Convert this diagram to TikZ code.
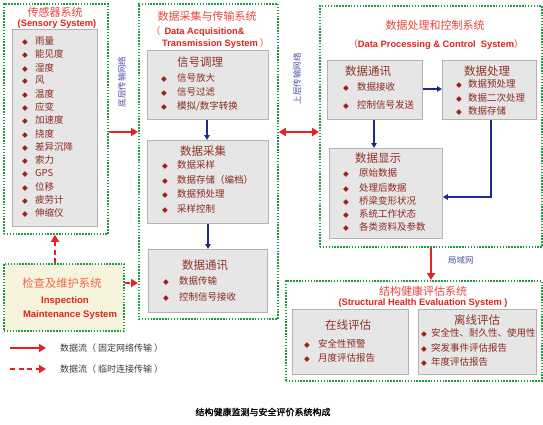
\documentclass[tikz,border=0pt]{standalone}
\usepackage{fontspec}
\setmainfont{Noto Sans CJK SC}
\newfontfamily\en{Liberation Sans}
\newfontfamily\sym{DejaVu Sans}
\newfontfamily\cjkb[FakeBold=1.2]{Noto Sans CJK SC}
\usetikzlibrary{arrows.meta}
\definecolor{dotgreen}{HTML}{1C9A44}
\definecolor{titlered}{HTML}{E8453C}
\definecolor{enred}{HTML}{E0231B}
\definecolor{itemred}{HTML}{8C2A1E}
\definecolor{subtitlec}{HTML}{8E3526}
\definecolor{dia}{HTML}{9A2418}
\definecolor{grayfill}{HTML}{E6E6E6}
\definecolor{grayline}{HTML}{B3B3B3}
\definecolor{navy}{HTML}{1E2A8A}
\definecolor{arrred}{HTML}{E32227}
\definecolor{lblue}{HTML}{4F4FA6}
\definecolor{cream}{HTML}{F6F4DC}
\definecolor{maintred}{HTML}{EC6A4E}
\definecolor{legtext}{HTML}{3A3A3A}
\newcommand\dm[2]{\makebox[#1pt][l]{{\sym\fontsize{7.5}{7.5}\selectfont\color{dia}◆}}#2}
\tikzset{
 sysbox/.style={draw=dotgreen, line width=1.8pt, dash pattern=on 1.5pt off 1.4pt, anchor=north west, inner sep=0pt},
 graybox/.style={draw=grayline, fill=grayfill, line width=0.9pt, anchor=north west, inner sep=0pt},
 systitle/.style={text=titlered, font=\fontsize{11}{11}\selectfont, inner sep=0pt},
 entitle/.style={text=enred, font=\en\bfseries\fontsize{9.3}{9.3}\selectfont, inner sep=0pt},
 subttl/.style={text=subtitlec, font=\fontsize{11.5}{11.5}\selectfont, inner sep=0pt},
 item/.style={text=itemred, font=\fontsize{9.5}{9.5}\selectfont, anchor=west, inner sep=0pt},
 redarr/.style={draw=arrred, line width=2.4pt, -{Triangle[length=7pt,width=8pt]}},
 bluearr/.style={draw=navy, line width=1.4pt, -{Triangle[length=5pt,width=5.5pt]}},
 netlbl/.style={text=lblue, font=\fontsize{8.5}{8.5}\selectfont, inner sep=0pt},
 legtxt/.style={text=legtext, font=\fontsize{9}{9}\selectfont, anchor=west, inner sep=0pt},
}
\begin{document}
\begin{tikzpicture}[x=1pt,y=-1pt]
\useasboundingbox (0,0) rectangle (543,425);
% ---------- boxes ----------
\node[sysbox, minimum width=104pt, minimum height=230pt] (sens) at (3,3) {};
\node[graybox, minimum width=85pt, minimum height=197pt] (sensg) at (12,29) {};
\node[sysbox, minimum width=139pt, minimum height=315pt] (acq) at (138,3) {};
\node[graybox, minimum width=121pt, minimum height=69pt] (sc) at (147,50) {};
\node[graybox, minimum width=121pt, minimum height=83pt] (da) at (147,140) {};
\node[graybox, minimum width=119pt, minimum height=63pt] (dc) at (148,249) {};
\node[sysbox, minimum width=222pt, minimum height=241pt] (proc) at (319,5) {};
\node[graybox, minimum width=95pt, minimum height=59pt] (pc) at (327,60) {};
\node[graybox, minimum width=94pt, minimum height=59pt] (pp) at (442,60) {};
\node[graybox, minimum width=113pt, minimum height=90pt] (pd) at (329,148) {};
\node[sysbox, minimum width=256pt, minimum height=100pt] (health) at (285,280) {};
\node[graybox, minimum width=116pt, minimum height=65pt] (on) at (292,309) {};
\node[graybox, minimum width=118pt, minimum height=65pt] (off) at (418,309) {};
\node[sysbox, fill=cream, minimum width=120pt, minimum height=67pt] (maint) at (3,263) {};
% ---------- titles ----------
\node[systitle] (t1) at (55,12) {传感器系统};
\node[entitle] (t1e) at (57,24) {(Sensory System)};
\node[systitle] (t2) at (207,16) {数据采集与传输系统};
\node[entitle, anchor=west] (t2e) at (151,31) {{\rm\color{titlered}（}\hspace{4pt}Data Acquisition\&};
\node[entitle, anchor=west] (t2f) at (162,43) {Transmission System\hspace{2pt}{\rm\color{titlered}）}};
\node[systitle] (t3) at (435,25) {数据处理和控制系统};
\node[entitle] (t3e) at (436,45) {{\rm\color{titlered}（}Data Processing \& Control\ \ System{\rm\color{titlered}）}};
\node[systitle] (t4) at (423,291) {结构健康评估系统};
\node[entitle] (t4e) at (423,303) {(Structural Health Evaluation System )};
\node[systitle, text=maintred, font=\fontsize{11.3}{11.3}\selectfont] (t5) at (62,283) {检查及维护系统};
\node[entitle, font=\en\bfseries\fontsize{9.5}{9.5}\selectfont] (t5e) at (65,301) {Inspection};
\node[entitle, font=\en\bfseries\fontsize{9.5}{9.5}\selectfont] (t5f) at (70,315) {Maintenance System};
% sub titles
\node[subttl] (st1) at (200,62) {信号调理};
\node[subttl] (st2) at (203,151) {数据采集};
\node[subttl] (st3) at (205,265) {数据通讯};
\node[subttl] (st4) at (368,71) {数据通讯};
\node[subttl] (st5) at (487,71) {数据处理};
\node[subttl] (st6) at (378,158) {数据显示};
\node[subttl] (st7) at (348,325) {在线评估};
\node[subttl] (st8) at (477,320) {离线评估};
% ---------- items ----------
\foreach \t [count=\i] in {雨量,能见度,湿度,风,温度,应变,加速度,挠度,差异沉降,索力,GPS,位移,疲劳计,伸缩仪}
  \node[item] (s\i) at (22,{41+13.23*(\i-1)}) {\dm{13}{\t}};
\foreach \t [count=\i] in {信号放大,信号过滤,模拟/数字转换}
  \node[item] (a\i) at (161,{78+14*(\i-1)}) {\dm{16}{\t}};
\foreach \t/\y [count=\i] in {数据采样/165,数据存储（编档）/180,数据预处理/194,采样控制/209}
  \node[item] (b\i) at (162,\y) {\dm{15}{\t}};
\foreach \t/\y [count=\i] in {数据传输/281,控制信号接收/297}
  \node[item] (c\i) at (163,\y) {\dm{16}{\t}};
\foreach \t/\y [count=\i] in {数据接收/87,控制信号发送/105}
  \node[item] (d\i) at (343,\y) {\dm{14}{\t}};
\foreach \t/\y [count=\i] in {数据预处理/84,数据二次处理/98,数据存储/111}
  \node[item] (e\i) at (456,\y) {\dm{12}{\t}};
\foreach \t/\y [count=\i] in {原始数据/173,处理后数据/188,桥梁变形状况/201,系统工作状态/214,各类资料及参数/227}
  \node[item] (f\i) at (343,\y) {\dm{16}{\t}};
\foreach \t/\y [count=\i] in {安全性预警/344,月度评估报告/358}
  \node[item] (g\i) at (304,\y) {\dm{14}{\t}};
\foreach \t/\y [count=\i] in {安全性、耐久性、使用性/333,突发事件评估报告/348,年度评估报告/362}
  \node[item] (h\i) at (421,\y) {\dm{10}{\t}};
% ---------- network labels ----------
\node[netlbl, rotate=90] (n1) at (122,82) {底层传输网络};
\node[netlbl, rotate=90] (n2) at (297,79) {上层传输网络};
\node[netlbl, anchor=west] (n3) at (448,260) {局域网};
% ---------- connectors ----------
\draw[redarr] (sens.east |- 0,132) -- (acq.west |- 0,132);
\draw[redarr, {Triangle[length=7pt,width=8pt]}-{Triangle[length=7pt,width=8pt]}] (acq.east |- 0,132) -- (proc.west |- 0,132);
\draw[redarr, dash pattern=on 5pt off 3.5pt] (maint.east |- 0,283) -- (acq.west |- 0,283);
\draw[redarr, dash pattern=on 5pt off 3.5pt] (maint.north -| 55,0) -- (sens.south -| 55,0);
\draw[redarr] (proc.south -| 431,0) -- (health.north -| 431,0);
\draw[bluearr] (sc.south -| 207,0) -- (da.north -| 207,0);
\draw[bluearr] (da.south -| 208,0) -- (dc.north -| 208,0);
\draw[bluearr] (pc.east |- 0,89) -- (pp.west |- 0,89);
\draw[bluearr] (pc.south -| 374,0) -- (pd.north -| 374,0);
\draw[bluearr] (pp.south -| 491,0) |- (pd.east |- 0,197);
% ---------- legend ----------
\coordinate (l1a) at (10,348);
\coordinate (l1b) at (46,348);
\coordinate (l2a) at (10,369);
\coordinate (l2b) at (46,369);
\draw[redarr] (l1a) -- (l1b);
\draw[redarr, dash pattern=on 5pt off 3.5pt] (l2a) -- (l2b);
\node[legtxt] (lt1) at (60,348) {数据流（ 固定网络传输 ）};
\node[legtxt] (lt2) at (60,369) {数据流（ 临时连接传输 ）};
% ---------- caption ----------
\node[font=\cjkb\fontsize{9}{9}\selectfont, inner sep=0pt] (cap) at (263,412) {结构健康监测与安全评价系统构成};
\end{tikzpicture}
\end{document}
